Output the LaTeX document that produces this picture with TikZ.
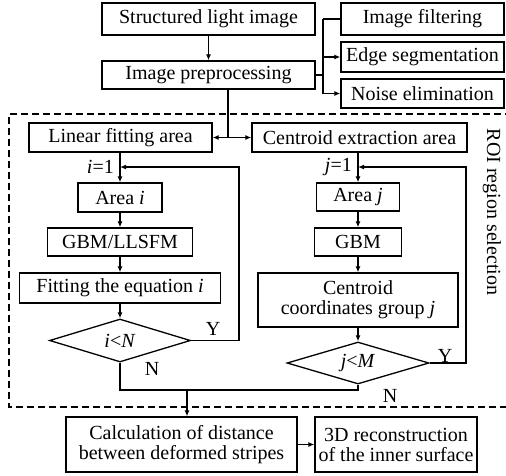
\documentclass[tikz,border=0pt]{standalone}
\usepackage{fontspec}
\setmainfont{Liberation Serif}
\usetikzlibrary{shapes.geometric,arrows.meta}
\begin{document}
\begin{tikzpicture}[x=1pt,y=-1pt,
  every node/.style={font=\fontsize{20}{22}\selectfont},
  box/.style={draw,line width=1.3pt,inner sep=0pt,align=center},
  dia/.style={draw,line width=1.3pt,diamond,inner sep=0pt,aspect=3.3},
  ln/.style={line width=1.3pt},
  arr/.style={line width=1.3pt,-{Latex[length=6pt,width=5pt]}},
  lbl/.style={inner sep=0pt}]
\useasboundingbox (0,0) rectangle (506,475);
\begin{scope}
\clip (0,0) rectangle (506,475);
% dashed region
\draw[line width=1.1pt,dash pattern=on 7pt off 4pt] (512,114) -- (9,114) -- (9,407) -- (512,407);
% top boxes
\node[box,minimum width=213pt,minimum height=32pt] (sli) at (208.5,19) {Structured light image};
\node[box,minimum width=213pt,minimum height=28pt] (pre) at (208.5,75) {Image preprocessing};
\node[box,minimum width=163pt,minimum height=32pt] (filt) at (422.5,19) {Image filtering};
\node[box,minimum width=163pt,minimum height=30pt] (edge) at (422.5,57) {Edge segmentation};
\node[box,minimum width=163pt,minimum height=29pt] (noise) at (422.5,93.5) {Noise elimination};
\draw[arr] (sli) -- (pre);
\coordinate (br) at (323,75);
\draw[ln] (pre.east) -- (br);
\draw[ln] (br |- filt.west) -- (filt.west);
\draw[ln] (br |- filt.west) -- (br |- noise.west);
\draw[arr] (br |- edge.west) -- (edge.west);
\draw[arr] (br |- noise.west) -- (noise.west);
% area boxes
\node[box,minimum width=183pt,minimum height=29pt] (lin) at (120.5,137.5) {Linear fitting area};
\node[box,minimum width=215pt,minimum height=29pt] (cen) at (359.5,137.5) {Centroid extraction area};
\coordinate (split) at (228,137.5);
\draw[ln] (pre.south -| split) -- (split);
\draw[arr] (split) -- (lin.east);
\draw[arr] (split) -- (cen.west);
% left column
\node[box,minimum width=84pt,minimum height=29pt] (areai) at (120,197.5) {Area \textit{i}};
\node[box,minimum width=145pt,minimum height=28pt] (gbml) at (120,242) {GBM/LLSFM};
\node[box,minimum width=201pt,minimum height=30pt] (fit) at (120,288) {Fitting the equation \textit{i}};
\node[dia,minimum width=141pt,minimum height=43pt] (di) at (120,340.5) {\textit{i}{\fontsize{20}{22}\selectfont<}\textit{N}};
\draw[arr] (lin.south -| areai) -- (areai.north);
\draw[arr] (areai) -- (gbml);
\draw[arr] (gbml) -- (fit);
\draw[arr] (fit) -- (di);
\coordinate (li) at (120,167);
\node[lbl,anchor=east] (i1) at (114,167) {\textit{i}=1};
\coordinate (yi) at (239,340.5);
\draw[arr] (di.east) -- (yi) -- (yi |- li) -- (li);
\node[lbl] (Yi) at (213,329) {Y};
\node[lbl] (Ni) at (152,369) {N};
% right column
\node[box,minimum width=83pt,minimum height=28pt] (areaj) at (358,197) {Area \textit{j}};
\node[box,minimum width=87pt,minimum height=28pt] (gbm) at (358,242) {GBM};
\node[box,minimum width=200pt,minimum height=54pt] (cg) at (358,300) {Centroid\\[-2pt]coordinates group \textit{j}};
\node[dia,minimum width=142pt,minimum height=42pt] (dj) at (358,363) {\textit{j}<\textit{M}};
\draw[arr] (cen.south -| areaj) -- (areaj.north);
\draw[arr] (areaj) -- (gbm);
\draw[arr] (gbm) -- (cg);
\draw[arr] (cg) -- (dj);
\coordinate (lj) at (358,167);
\node[lbl,anchor=east] (j1) at (352,167) {\textit{j}=1};
\coordinate (yj) at (466,363);
\draw[arr] (dj.east) -- (yj) -- (yj |- lj) -- (lj);
\node[lbl] (Yj) at (445,356) {Y};
\node[lbl] (Nj) at (390,396) {N};
% merge
\coordinate (mi) at (120,390);
\coordinate (mm) at (187,390);
\draw[ln] (di.south) -- (mi) -- (mi -| dj.south) -- (dj.south);
% bottom
\node[box,minimum width=231pt,minimum height=55pt] (calc) at (181.5,444.5) {Calculation of distance\\[-2pt]between deformed stripes};
\node[box,minimum width=162pt,minimum height=55pt] (rec) at (396,444.5) {3D reconstruction\\[-2pt]of the inner surface};
\draw[arr] (mm) -- (mm |- calc.north);
\draw[arr] (calc) -- (rec);
% ROI label
\node[lbl,rotate=-90] (roi) at (492,212) {ROI region selection};
\end{scope}
\end{tikzpicture}
\end{document}
